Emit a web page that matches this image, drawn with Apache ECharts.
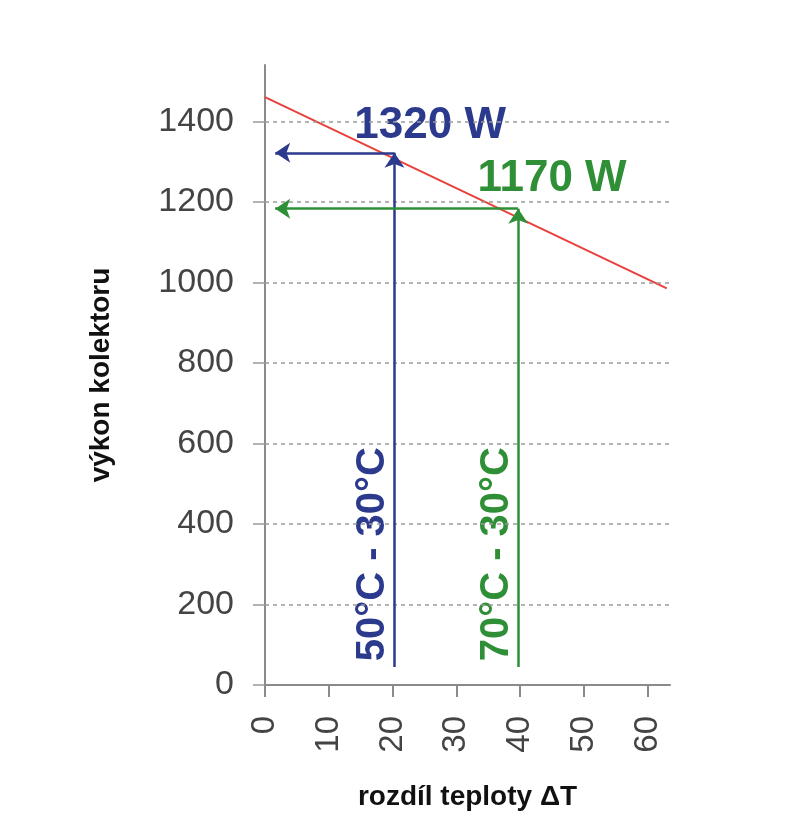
<!DOCTYPE html>
<html>
<head>
<meta charset="utf-8">
<script src="https://cdn.jsdelivr.net/npm/echarts@6/dist/echarts.min.js"></script>
<style>html,body{margin:0;padding:0;background:#fff}#c{width:802px;height:835px}</style>
</head>
<body>
<div id="c"></div>
<script>
// Data
const xTicks = [0, 10, 20, 30, 40, 50, 60];
const yTicks = [0, 200, 400, 600, 800, 1000, 1200, 1400];
const powerLineX = [0, 63];
const powerLineY = [1460, 985];
// arrows: [dT, power, arrow bottom, arrow left end]
const blueArrow = [20.3, 1322, 45, 1.6];
const greenArrow = [39.7, 1183, 45, 1.6];
const valueLabels = ['1320 W', '1170 W'];
const valueLabelPos = [[25.9, 1389], [45, 1257]];
const rangeLabels = ['50°C - 30°C', '70°C - 30°C'];
const rangeLabelPos = [[17, 325], [36.4, 325]];

const BLUE = '#2c3a8e', GREEN = '#2f8f36', RED = '#e8403a';
const FONT = '"Liberation Sans", Arial, sans-serif';

function arrowLines(a, color) {
  return {
    type: 'line', data: [], silent: true,
    markLine: {
      silent: true, animation: false,
      symbol: ['none', 'arrow'], symbolSize: [15, 15],
      label: {show: false},
      lineStyle: {color: color, width: 2.5, type: 'solid'},
      data: [
        [{coord: [a[0], a[2]]}, {coord: [a[0], a[1]]}],
        [{coord: [a[0], a[1]]}, {coord: [a[3], a[1]]}]
      ]
    }
  };
}

function textSeries(pos, texts, colors, extra) {
  return {
    type: 'scatter', symbolSize: 0, silent: true,
    itemStyle: {opacity: 1},
    data: pos.map((p, i) => ({value: p, name: texts[i],
      label: {color: colors[i]}})),
    label: Object.assign({show: true, position: 'inside', opacity: 1, formatter: p => p.name,
      fontFamily: FONT, fontWeight: 'bold'}, extra)
  };
}

const chart = echarts.init(document.getElementById('c'));
chart.setOption({
  animation: false,
  grid: {left: 265, top: 65, right: 132, bottom: 150, containLabel: false},
  xAxis: {
    type: 'value', min: 0, max: 63.5, interval: 10,
    name: 'rozdíl teploty ΔT', nameLocation: 'middle', nameGap: 98,
    nameTextStyle: {fontFamily: FONT, fontWeight: 'bold', fontSize: 28, color: '#111'},
    axisLine: {show: true, lineStyle: {color: '#8a8a8a', width: 2}},
    axisTick: {show: true, length: 12, lineStyle: {color: '#8a8a8a', width: 2}, customValues: xTicks},
    axisLabel: {rotate: 90, margin: 31, fontFamily: FONT, fontSize: 33, color: '#444', customValues: xTicks},
    splitLine: {show: false}
  },
  yAxis: {
    type: 'value', min: 0, max: 1540, interval: 200,
    name: 'výkon kolektoru', nameLocation: 'middle', nameGap: 150,
    nameTextStyle: {fontFamily: FONT, fontWeight: 'bold', fontSize: 28, color: '#111'},
    axisLine: {show: true, lineStyle: {color: '#8a8a8a', width: 2}},
    axisTick: {show: true, length: 12, lineStyle: {color: '#9a9a9a', width: 1.5}, customValues: yTicks},
    axisLabel: {margin: 31, fontFamily: FONT, fontSize: 34, color: '#444', customValues: yTicks,
      formatter: v => String(v)},
    splitLine: {show: false}
  },
  series: [
    {
      type: 'line', silent: true, data: [],
      markLine: {
        silent: true, symbol: 'none', label: {show: false},
        lineStyle: {color: '#9a9a9a', width: 1.5, type: [4, 4]},
        data: yTicks.filter(v => v > 0).map(v => ({yAxis: v}))
      }
    },
    arrowLines(blueArrow, BLUE),
    arrowLines(greenArrow, GREEN),
    {
      type: 'line', symbol: 'none', silent: true,
      lineStyle: {color: RED, width: 2},
      data: powerLineX.map((x, i) => [x, powerLineY[i]])
    },
    textSeries(valueLabelPos, valueLabels, [BLUE, GREEN], {fontSize: 44}),
    textSeries(rangeLabelPos, rangeLabels, [BLUE, GREEN], {fontSize: 40, rotate: 90})
  ]
});
</script>
</body>
</html>
